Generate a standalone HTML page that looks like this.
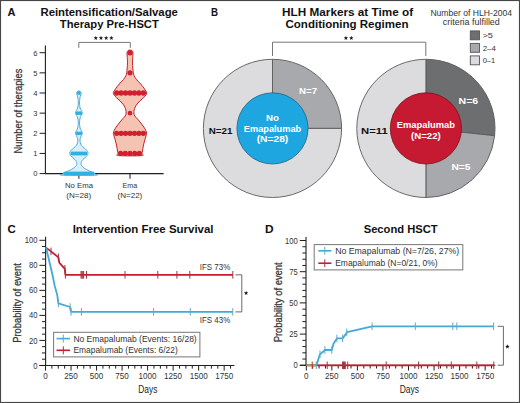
<!DOCTYPE html><html><head><meta charset="utf-8"><style>html,body{margin:0;padding:0;background:#fff;}svg{display:block;font-family:"Liberation Sans", sans-serif;}</style></head><body>
<svg width="520" height="403" viewBox="0 0 520 403">
<rect x="0" y="0" width="520" height="403" fill="#fff"/>
<text x="7.40" y="15.90" font-size="11.2" text-anchor="start" font-weight="bold" fill="#111" textLength="8.00" lengthAdjust="spacingAndGlyphs" >A</text>
<text x="109.20" y="15.90" font-size="11.2" text-anchor="middle" font-weight="bold" fill="#111" textLength="137.50" lengthAdjust="spacingAndGlyphs" >Reintensification/Salvage</text>
<text x="109.30" y="27.60" font-size="11.2" text-anchor="middle" font-weight="bold" fill="#111" textLength="99.00" lengthAdjust="spacingAndGlyphs" >Therapy Pre-HSCT</text>
<polygon points="95.80,35.70 96.39,37.24 98.03,37.32 96.75,38.36 97.18,39.95 95.80,39.05 94.42,39.95 94.85,38.36 93.57,37.32 95.21,37.24" fill="#1a1a1a"/>
<polygon points="101.00,35.70 101.59,37.24 103.23,37.32 101.95,38.36 102.38,39.95 101.00,39.05 99.62,39.95 100.05,38.36 98.77,37.32 100.41,37.24" fill="#1a1a1a"/>
<polygon points="106.20,35.70 106.79,37.24 108.43,37.32 107.15,38.36 107.58,39.95 106.20,39.05 104.82,39.95 105.25,38.36 103.97,37.32 105.61,37.24" fill="#1a1a1a"/>
<polygon points="111.40,35.70 111.99,37.24 113.63,37.32 112.35,38.36 112.78,39.95 111.40,39.05 110.02,39.95 110.45,38.36 109.17,37.32 110.81,37.24" fill="#1a1a1a"/>
<path d="M78.8,47.8 V42.4 H130.3 V47.8" fill="none" stroke="#777" stroke-width="1"/>
<line x1="45.40" y1="45.40" x2="45.40" y2="174.10" stroke="#1e1e1e" stroke-width="1.1"/>
<line x1="44.90" y1="173.60" x2="163.60" y2="173.60" stroke="#1e1e1e" stroke-width="1.1"/>
<line x1="39.60" y1="173.60" x2="45.40" y2="173.60" stroke="#1e1e1e" stroke-width="1.0"/>
<text x="37.40" y="176.40" font-size="8.0" text-anchor="end" fill="#333" textLength="4.20" lengthAdjust="spacingAndGlyphs" >0</text>
<line x1="39.60" y1="153.45" x2="45.40" y2="153.45" stroke="#1e1e1e" stroke-width="1.0"/>
<text x="37.40" y="156.25" font-size="8.0" text-anchor="end" fill="#333" textLength="4.20" lengthAdjust="spacingAndGlyphs" >1</text>
<line x1="39.60" y1="133.30" x2="45.40" y2="133.30" stroke="#1e1e1e" stroke-width="1.0"/>
<text x="37.40" y="136.10" font-size="8.0" text-anchor="end" fill="#333" textLength="4.20" lengthAdjust="spacingAndGlyphs" >2</text>
<line x1="39.60" y1="113.15" x2="45.40" y2="113.15" stroke="#1e1e1e" stroke-width="1.0"/>
<text x="37.40" y="115.95" font-size="8.0" text-anchor="end" fill="#333" textLength="4.20" lengthAdjust="spacingAndGlyphs" >3</text>
<line x1="39.60" y1="93.00" x2="45.40" y2="93.00" stroke="#1e1e1e" stroke-width="1.0"/>
<text x="37.40" y="95.80" font-size="8.0" text-anchor="end" fill="#333" textLength="4.20" lengthAdjust="spacingAndGlyphs" >4</text>
<line x1="39.60" y1="72.85" x2="45.40" y2="72.85" stroke="#1e1e1e" stroke-width="1.0"/>
<text x="37.40" y="75.65" font-size="8.0" text-anchor="end" fill="#333" textLength="4.20" lengthAdjust="spacingAndGlyphs" >5</text>
<line x1="39.60" y1="52.70" x2="45.40" y2="52.70" stroke="#1e1e1e" stroke-width="1.0"/>
<text x="37.40" y="55.50" font-size="8.0" text-anchor="end" fill="#333" textLength="4.20" lengthAdjust="spacingAndGlyphs" >6</text>
<line x1="78.90" y1="173.60" x2="78.90" y2="178.80" stroke="#1e1e1e" stroke-width="1.0"/>
<line x1="130.00" y1="173.60" x2="130.00" y2="178.80" stroke="#1e1e1e" stroke-width="1.0"/>
<text x="79.00" y="187.90" font-size="8.0" text-anchor="middle" fill="#333" textLength="28.00" lengthAdjust="spacingAndGlyphs" >No Ema</text>
<text x="78.80" y="197.80" font-size="8.0" text-anchor="middle" fill="#333" textLength="25.00" lengthAdjust="spacingAndGlyphs" >(N=28)</text>
<text x="129.90" y="187.90" font-size="8.0" text-anchor="middle" fill="#333" textLength="14.60" lengthAdjust="spacingAndGlyphs" >Ema</text>
<text x="129.90" y="197.80" font-size="8.0" text-anchor="middle" fill="#333" textLength="24.80" lengthAdjust="spacingAndGlyphs" >(N=22)</text>
<text x="0" y="0" font-size="10.4" fill="#333" text-anchor="middle" textLength="84.8" lengthAdjust="spacingAndGlyphs" stroke="#333" stroke-width="0.25" transform="translate(21.8,111.1) rotate(-90)">Number of therapies</text>
<path d="M79.40,91.00 C79.78,91.13 80.40,91.43 80.70,91.80 C81.00,92.17 81.20,92.67 81.20,93.20 C81.20,93.73 80.92,94.20 80.70,95.00 C80.48,95.80 80.10,96.67 79.90,98.00 C79.70,99.33 79.47,101.33 79.50,103.00 C79.53,104.67 79.78,106.75 80.10,108.00 C80.42,109.25 81.03,109.68 81.40,110.50 C81.77,111.32 82.30,112.10 82.30,112.90 C82.30,113.70 81.77,114.45 81.40,115.30 C81.03,116.15 80.42,116.72 80.10,118.00 C79.78,119.28 79.50,121.33 79.50,123.00 C79.50,124.67 79.78,126.70 80.10,128.00 C80.42,129.30 81.03,129.93 81.40,130.80 C81.77,131.67 82.30,132.40 82.30,133.20 C82.30,134.00 81.75,134.72 81.40,135.60 C81.05,136.48 80.42,137.52 80.20,138.50 C79.98,139.48 80.02,140.58 80.10,141.50 C80.18,142.42 80.32,143.17 80.70,144.00 C81.08,144.83 81.62,145.67 82.40,146.50 C83.18,147.33 84.57,148.20 85.40,149.00 C86.23,149.80 86.97,150.57 87.40,151.30 C87.83,152.03 88.03,152.70 88.00,153.40 C87.97,154.10 87.67,154.82 87.20,155.50 C86.73,156.18 85.92,156.83 85.20,157.50 C84.48,158.17 83.52,158.83 82.90,159.50 C82.28,160.17 81.82,160.83 81.50,161.50 C81.18,162.17 81.00,162.83 81.00,163.50 C81.00,164.17 81.10,164.83 81.50,165.50 C81.90,166.17 82.58,166.83 83.40,167.50 C84.22,168.17 85.32,168.88 86.40,169.50 C87.48,170.12 88.73,170.67 89.90,171.20 C91.07,171.73 92.52,172.23 93.40,172.70 C94.28,173.17 94.90,173.58 95.20,174.00 C95.50,174.42 100.63,175.00 95.20,175.20 C89.77,175.40 68.03,175.40 62.60,175.20 C57.17,175.00 62.30,174.42 62.60,174.00 C62.90,173.58 63.52,173.17 64.40,172.70 C65.28,172.23 66.73,171.73 67.90,171.20 C69.07,170.67 70.32,170.12 71.40,169.50 C72.48,168.88 73.58,168.17 74.40,167.50 C75.22,166.83 75.90,166.17 76.30,165.50 C76.70,164.83 76.80,164.17 76.80,163.50 C76.80,162.83 76.62,162.17 76.30,161.50 C75.98,160.83 75.52,160.17 74.90,159.50 C74.28,158.83 73.32,158.17 72.60,157.50 C71.88,156.83 71.07,156.18 70.60,155.50 C70.13,154.82 69.83,154.10 69.80,153.40 C69.77,152.70 69.97,152.03 70.40,151.30 C70.83,150.57 71.57,149.80 72.40,149.00 C73.23,148.20 74.62,147.33 75.40,146.50 C76.18,145.67 76.72,144.83 77.10,144.00 C77.48,143.17 77.62,142.42 77.70,141.50 C77.78,140.58 77.82,139.48 77.60,138.50 C77.38,137.52 76.75,136.48 76.40,135.60 C76.05,134.72 75.50,134.00 75.50,133.20 C75.50,132.40 76.03,131.67 76.40,130.80 C76.77,129.93 77.38,129.30 77.70,128.00 C78.02,126.70 78.30,124.67 78.30,123.00 C78.30,121.33 78.02,119.28 77.70,118.00 C77.38,116.72 76.77,116.15 76.40,115.30 C76.03,114.45 75.50,113.70 75.50,112.90 C75.50,112.10 76.03,111.32 76.40,110.50 C76.77,109.68 77.38,109.25 77.70,108.00 C78.02,106.75 78.27,104.67 78.30,103.00 C78.33,101.33 78.10,99.33 77.90,98.00 C77.70,96.67 77.32,95.80 77.10,95.00 C76.88,94.20 76.60,93.73 76.60,93.20 C76.60,92.67 76.80,92.17 77.10,91.80 C77.40,91.43 78.02,91.13 78.40,91.00 C78.78,90.87 79.02,90.87 79.40,91.00Z" fill="#d6effa" stroke="#4aa9d4" stroke-width="0.95" stroke-linejoin="round"/>
<circle cx="78.90" cy="93.00" r="1.9" fill="#2fb0e2"/>
<circle cx="77.60" cy="113.15" r="1.9" fill="#2fb0e2"/>
<circle cx="80.20" cy="113.15" r="1.9" fill="#2fb0e2"/>
<circle cx="77.60" cy="133.30" r="1.9" fill="#2fb0e2"/>
<circle cx="80.20" cy="133.30" r="1.9" fill="#2fb0e2"/>
<circle cx="72.43" cy="153.45" r="2.0" fill="#2fb0e2"/>
<circle cx="74.28" cy="153.45" r="2.0" fill="#2fb0e2"/>
<circle cx="76.13" cy="153.45" r="2.0" fill="#2fb0e2"/>
<circle cx="77.98" cy="153.45" r="2.0" fill="#2fb0e2"/>
<circle cx="79.83" cy="153.45" r="2.0" fill="#2fb0e2"/>
<circle cx="81.68" cy="153.45" r="2.0" fill="#2fb0e2"/>
<circle cx="83.53" cy="153.45" r="2.0" fill="#2fb0e2"/>
<circle cx="85.38" cy="153.45" r="2.0" fill="#2fb0e2"/>
<circle cx="65.25" cy="173.40" r="2.0" fill="#2fb0e2"/>
<circle cx="67.20" cy="173.40" r="2.0" fill="#2fb0e2"/>
<circle cx="69.15" cy="173.40" r="2.0" fill="#2fb0e2"/>
<circle cx="71.10" cy="173.40" r="2.0" fill="#2fb0e2"/>
<circle cx="73.05" cy="173.40" r="2.0" fill="#2fb0e2"/>
<circle cx="75.00" cy="173.40" r="2.0" fill="#2fb0e2"/>
<circle cx="76.95" cy="173.40" r="2.0" fill="#2fb0e2"/>
<circle cx="78.90" cy="173.40" r="2.0" fill="#2fb0e2"/>
<circle cx="80.85" cy="173.40" r="2.0" fill="#2fb0e2"/>
<circle cx="82.80" cy="173.40" r="2.0" fill="#2fb0e2"/>
<circle cx="84.75" cy="173.40" r="2.0" fill="#2fb0e2"/>
<circle cx="86.70" cy="173.40" r="2.0" fill="#2fb0e2"/>
<circle cx="88.65" cy="173.40" r="2.0" fill="#2fb0e2"/>
<circle cx="90.60" cy="173.40" r="2.0" fill="#2fb0e2"/>
<circle cx="92.55" cy="173.40" r="2.0" fill="#2fb0e2"/>
<path d="M130.80,50.20 C131.27,50.27 131.63,50.17 132.00,50.60 C132.37,51.03 132.87,51.90 133.00,52.80 C133.13,53.70 132.88,54.35 132.80,56.00 C132.72,57.65 132.50,60.70 132.50,62.70 C132.50,64.70 132.67,66.33 132.80,68.00 C132.93,69.67 133.07,71.37 133.30,72.70 C133.53,74.03 133.67,74.87 134.20,76.00 C134.73,77.13 135.57,78.33 136.50,79.50 C137.43,80.67 138.75,81.83 139.80,83.00 C140.85,84.17 141.90,85.33 142.80,86.50 C143.70,87.67 144.55,88.92 145.20,90.00 C145.85,91.08 146.70,92.00 146.70,93.00 C146.70,94.00 145.98,95.00 145.20,96.00 C144.42,97.00 143.22,97.83 142.00,99.00 C140.78,100.17 139.03,101.67 137.90,103.00 C136.77,104.33 135.82,105.83 135.20,107.00 C134.58,108.17 134.42,109.00 134.20,110.00 C133.98,111.00 133.80,112.00 133.90,113.00 C134.00,114.00 134.20,115.00 134.80,116.00 C135.40,117.00 136.50,117.83 137.50,119.00 C138.50,120.17 139.75,121.67 140.80,123.00 C141.85,124.33 142.97,125.75 143.80,127.00 C144.63,128.25 145.33,129.47 145.80,130.50 C146.27,131.53 146.57,132.28 146.60,133.20 C146.63,134.12 146.35,134.70 146.00,136.00 C145.65,137.30 144.95,139.33 144.50,141.00 C144.05,142.67 143.63,144.33 143.30,146.00 C142.97,147.67 142.72,149.77 142.50,151.00 C142.28,152.23 142.17,152.63 142.00,153.40 C141.83,154.17 145.42,155.23 141.50,155.60 C137.58,155.97 122.42,155.97 118.50,155.60 C114.58,155.23 118.17,154.17 118.00,153.40 C117.83,152.63 117.72,152.23 117.50,151.00 C117.28,149.77 117.03,147.67 116.70,146.00 C116.37,144.33 115.95,142.67 115.50,141.00 C115.05,139.33 114.35,137.30 114.00,136.00 C113.65,134.70 113.37,134.12 113.40,133.20 C113.43,132.28 113.73,131.53 114.20,130.50 C114.67,129.47 115.37,128.25 116.20,127.00 C117.03,125.75 118.15,124.33 119.20,123.00 C120.25,121.67 121.50,120.17 122.50,119.00 C123.50,117.83 124.60,117.00 125.20,116.00 C125.80,115.00 126.00,114.00 126.10,113.00 C126.20,112.00 126.02,111.00 125.80,110.00 C125.58,109.00 125.42,108.17 124.80,107.00 C124.18,105.83 123.23,104.33 122.10,103.00 C120.97,101.67 119.22,100.17 118.00,99.00 C116.78,97.83 115.58,97.00 114.80,96.00 C114.02,95.00 113.30,94.00 113.30,93.00 C113.30,92.00 114.15,91.08 114.80,90.00 C115.45,88.92 116.30,87.67 117.20,86.50 C118.10,85.33 119.15,84.17 120.20,83.00 C121.25,81.83 122.57,80.67 123.50,79.50 C124.43,78.33 125.27,77.13 125.80,76.00 C126.33,74.87 126.47,74.03 126.70,72.70 C126.93,71.37 127.07,69.67 127.20,68.00 C127.33,66.33 127.50,64.70 127.50,62.70 C127.50,60.70 127.28,57.65 127.20,56.00 C127.12,54.35 126.87,53.70 127.00,52.80 C127.13,51.90 127.63,51.03 128.00,50.60 C128.37,50.17 128.73,50.27 129.20,50.20 C129.67,50.13 130.33,50.13 130.80,50.20Z" fill="#f5c3b2" stroke="#c4202e" stroke-width="1.0" stroke-linejoin="round"/>
<circle cx="130.00" cy="52.70" r="2.7" fill="#d01f2e"/>
<circle cx="130.00" cy="72.85" r="2.6" fill="#d01f2e"/>
<circle cx="116.65" cy="93.00" r="2.65" fill="#d01f2e"/>
<circle cx="121.10" cy="93.00" r="2.65" fill="#d01f2e"/>
<circle cx="125.55" cy="93.00" r="2.65" fill="#d01f2e"/>
<circle cx="130.00" cy="93.00" r="2.65" fill="#d01f2e"/>
<circle cx="134.45" cy="93.00" r="2.65" fill="#d01f2e"/>
<circle cx="138.90" cy="93.00" r="2.65" fill="#d01f2e"/>
<circle cx="143.35" cy="93.00" r="2.65" fill="#d01f2e"/>
<circle cx="130.00" cy="113.15" r="2.3" fill="#d01f2e"/>
<circle cx="116.65" cy="133.30" r="2.65" fill="#d01f2e"/>
<circle cx="121.10" cy="133.30" r="2.65" fill="#d01f2e"/>
<circle cx="125.55" cy="133.30" r="2.65" fill="#d01f2e"/>
<circle cx="130.00" cy="133.30" r="2.65" fill="#d01f2e"/>
<circle cx="134.45" cy="133.30" r="2.65" fill="#d01f2e"/>
<circle cx="138.90" cy="133.30" r="2.65" fill="#d01f2e"/>
<circle cx="143.35" cy="133.30" r="2.65" fill="#d01f2e"/>
<circle cx="120.60" cy="153.45" r="2.6" fill="#d01f2e"/>
<circle cx="125.30" cy="153.45" r="2.6" fill="#d01f2e"/>
<circle cx="130.00" cy="153.45" r="2.6" fill="#d01f2e"/>
<circle cx="134.70" cy="153.45" r="2.6" fill="#d01f2e"/>
<circle cx="139.40" cy="153.45" r="2.6" fill="#d01f2e"/>
<text x="210.90" y="15.90" font-size="11.2" text-anchor="start" font-weight="bold" fill="#111" textLength="7.00" lengthAdjust="spacingAndGlyphs" >B</text>
<text x="347.60" y="15.90" font-size="11.2" text-anchor="middle" font-weight="bold" fill="#111" textLength="131.00" lengthAdjust="spacingAndGlyphs" >HLH Markers at Time of</text>
<text x="347.00" y="27.60" font-size="11.2" text-anchor="middle" font-weight="bold" fill="#111" textLength="123.00" lengthAdjust="spacingAndGlyphs" >Conditioning Regimen</text>
<polygon points="345.90,35.70 346.49,37.24 348.13,37.32 346.85,38.36 347.28,39.95 345.90,39.05 344.52,39.95 344.95,38.36 343.67,37.32 345.31,37.24" fill="#1a1a1a"/>
<polygon points="351.30,35.70 351.89,37.24 353.53,37.32 352.25,38.36 352.68,39.95 351.30,39.05 349.92,39.95 350.35,38.36 349.07,37.32 350.71,37.24" fill="#1a1a1a"/>
<path d="M272.5,56 V42.2 H425.8 V56" fill="none" stroke="#777" stroke-width="1"/>
<text x="471.20" y="15.50" font-size="9.4" text-anchor="middle" fill="#333" textLength="81.60" lengthAdjust="spacingAndGlyphs" >Number of HLH-2004</text>
<text x="471.30" y="24.50" font-size="9.4" text-anchor="middle" fill="#333" textLength="57.00" lengthAdjust="spacingAndGlyphs" >criteria fulfilled</text>
<rect x="470.3" y="30.90" width="9.2" height="8.9" fill="#6d6e70" stroke="#555" stroke-width="0.9"/>
<rect x="470.3" y="43.40" width="9.2" height="8.9" fill="#a8a9ac" stroke="#555" stroke-width="0.9"/>
<rect x="470.3" y="55.90" width="9.2" height="8.9" fill="#dcdcdf" stroke="#555" stroke-width="0.9"/>
<text x="482.50" y="37.90" font-size="8.0" text-anchor="start" fill="#333" textLength="10.40" lengthAdjust="spacingAndGlyphs" >&gt;5</text>
<text x="482.70" y="50.50" font-size="8.0" text-anchor="start" fill="#333" textLength="13.20" lengthAdjust="spacingAndGlyphs" >2–4</text>
<text x="482.70" y="62.90" font-size="8.0" text-anchor="start" fill="#333" textLength="12.50" lengthAdjust="spacingAndGlyphs" >0–1</text>
<path d="M272.50,128.40 L272.50,59.30 A69.1,69.1 0 0 1 341.60,128.40 Z" fill="#a8a9ac" stroke="#5a5a5a" stroke-width="0.9" stroke-linejoin="round"/>
<path d="M272.50,128.40 L341.60,128.40 A69.1,69.1 0 1 1 272.50,59.30 Z" fill="#dcdcdf" stroke="#5a5a5a" stroke-width="0.9" stroke-linejoin="round"/>
<circle cx="272.5" cy="128.4" r="35.6" fill="#1da6df" stroke="#23607e" stroke-width="0.8"/>
<text x="272.50" y="121.30" font-size="9.6" text-anchor="middle" font-weight="bold" fill="#fff" textLength="12.90" lengthAdjust="spacingAndGlyphs" >No</text>
<text x="272.50" y="132.20" font-size="9.6" text-anchor="middle" font-weight="bold" fill="#fff" textLength="57.40" lengthAdjust="spacingAndGlyphs" >Emapalumab</text>
<text x="272.50" y="141.90" font-size="9.6" text-anchor="middle" font-weight="bold" fill="#fff" textLength="31.60" lengthAdjust="spacingAndGlyphs" >(N=28)</text>
<text x="308.10" y="94.30" font-size="9.6" text-anchor="middle" font-weight="bold" fill="#fff" textLength="18.00" lengthAdjust="spacingAndGlyphs" >N=7</text>
<text x="220.60" y="134.40" font-size="9.6" text-anchor="middle" font-weight="bold" fill="#111" textLength="23.70" lengthAdjust="spacingAndGlyphs" >N=21</text>
<path d="M425.90,128.40 L425.90,59.30 A69.1,69.1 0 0 1 494.61,135.74 Z" fill="#6d6e70" stroke="#5a5a5a" stroke-width="0.9" stroke-linejoin="round"/>
<path d="M425.90,128.40 L494.61,135.74 A69.1,69.1 0 0 1 425.90,197.50 Z" fill="#a8a9ac" stroke="#5a5a5a" stroke-width="0.9" stroke-linejoin="round"/>
<path d="M425.90,128.40 L425.90,197.50 A69.1,69.1 0 0 1 425.90,59.30 Z" fill="#dcdcdf" stroke="#5a5a5a" stroke-width="0.9" stroke-linejoin="round"/>
<circle cx="425.9" cy="128.4" r="35.6" fill="#c51a32" stroke="#7e0b1a" stroke-width="0.8"/>
<text x="425.90" y="128.20" font-size="9.6" text-anchor="middle" font-weight="bold" fill="#fff" textLength="58.20" lengthAdjust="spacingAndGlyphs" >Emapalumab</text>
<text x="425.90" y="138.60" font-size="9.6" text-anchor="middle" font-weight="bold" fill="#fff" textLength="29.80" lengthAdjust="spacingAndGlyphs" >(N=22)</text>
<text x="468.40" y="103.90" font-size="9.6" text-anchor="middle" font-weight="bold" fill="#fff" textLength="19.60" lengthAdjust="spacingAndGlyphs" >N=6</text>
<text x="461.00" y="170.20" font-size="9.6" text-anchor="middle" font-weight="bold" fill="#fff" textLength="19.10" lengthAdjust="spacingAndGlyphs" >N=5</text>
<text x="374.40" y="134.40" font-size="9.6" text-anchor="middle" font-weight="bold" fill="#111" textLength="26.60" lengthAdjust="spacingAndGlyphs" >N=11</text>
<text x="7.50" y="232.80" font-size="11.2" text-anchor="start" font-weight="bold" fill="#111" textLength="8.30" lengthAdjust="spacingAndGlyphs" >C</text>
<text x="143.10" y="232.80" font-size="11.2" text-anchor="middle" font-weight="bold" fill="#111" textLength="140.90" lengthAdjust="spacingAndGlyphs" >Intervention Free Survival</text>
<line x1="45.60" y1="236.80" x2="45.60" y2="365.95" stroke="#1e1e1e" stroke-width="1.1"/>
<line x1="39.40" y1="365.45" x2="234.38" y2="365.45" stroke="#1e1e1e" stroke-width="1.1"/>
<line x1="39.40" y1="365.45" x2="45.60" y2="365.45" stroke="#1e1e1e" stroke-width="1.0"/>
<text x="37.40" y="368.55" font-size="8.8" text-anchor="end" fill="#333" textLength="4.25" lengthAdjust="spacingAndGlyphs" >0</text>
<line x1="42.00" y1="359.19" x2="45.60" y2="359.19" stroke="#1e1e1e" stroke-width="1.0"/>
<line x1="42.00" y1="352.94" x2="45.60" y2="352.94" stroke="#1e1e1e" stroke-width="1.0"/>
<line x1="42.00" y1="346.68" x2="45.60" y2="346.68" stroke="#1e1e1e" stroke-width="1.0"/>
<line x1="39.40" y1="340.42" x2="45.60" y2="340.42" stroke="#1e1e1e" stroke-width="1.0"/>
<text x="37.40" y="343.52" font-size="8.8" text-anchor="end" fill="#333" textLength="8.50" lengthAdjust="spacingAndGlyphs" >20</text>
<line x1="42.00" y1="334.16" x2="45.60" y2="334.16" stroke="#1e1e1e" stroke-width="1.0"/>
<line x1="42.00" y1="327.91" x2="45.60" y2="327.91" stroke="#1e1e1e" stroke-width="1.0"/>
<line x1="42.00" y1="321.65" x2="45.60" y2="321.65" stroke="#1e1e1e" stroke-width="1.0"/>
<line x1="39.40" y1="315.39" x2="45.60" y2="315.39" stroke="#1e1e1e" stroke-width="1.0"/>
<text x="37.40" y="318.49" font-size="8.8" text-anchor="end" fill="#333" textLength="8.50" lengthAdjust="spacingAndGlyphs" >40</text>
<line x1="42.00" y1="309.13" x2="45.60" y2="309.13" stroke="#1e1e1e" stroke-width="1.0"/>
<line x1="42.00" y1="302.88" x2="45.60" y2="302.88" stroke="#1e1e1e" stroke-width="1.0"/>
<line x1="42.00" y1="296.62" x2="45.60" y2="296.62" stroke="#1e1e1e" stroke-width="1.0"/>
<line x1="39.40" y1="290.36" x2="45.60" y2="290.36" stroke="#1e1e1e" stroke-width="1.0"/>
<text x="37.40" y="293.46" font-size="8.8" text-anchor="end" fill="#333" textLength="8.50" lengthAdjust="spacingAndGlyphs" >60</text>
<line x1="42.00" y1="284.10" x2="45.60" y2="284.10" stroke="#1e1e1e" stroke-width="1.0"/>
<line x1="42.00" y1="277.85" x2="45.60" y2="277.85" stroke="#1e1e1e" stroke-width="1.0"/>
<line x1="42.00" y1="271.59" x2="45.60" y2="271.59" stroke="#1e1e1e" stroke-width="1.0"/>
<line x1="39.40" y1="265.33" x2="45.60" y2="265.33" stroke="#1e1e1e" stroke-width="1.0"/>
<text x="37.40" y="268.43" font-size="8.8" text-anchor="end" fill="#333" textLength="8.50" lengthAdjust="spacingAndGlyphs" >80</text>
<line x1="42.00" y1="259.07" x2="45.60" y2="259.07" stroke="#1e1e1e" stroke-width="1.0"/>
<line x1="42.00" y1="252.81" x2="45.60" y2="252.81" stroke="#1e1e1e" stroke-width="1.0"/>
<line x1="42.00" y1="246.56" x2="45.60" y2="246.56" stroke="#1e1e1e" stroke-width="1.0"/>
<line x1="39.40" y1="240.30" x2="45.60" y2="240.30" stroke="#1e1e1e" stroke-width="1.0"/>
<text x="37.40" y="243.40" font-size="8.8" text-anchor="end" fill="#333" textLength="12.75" lengthAdjust="spacingAndGlyphs" >100</text>
<line x1="45.50" y1="365.45" x2="45.50" y2="370.65" stroke="#1e1e1e" stroke-width="1.0"/>
<text x="45.50" y="379.05" font-size="8.8" text-anchor="middle" fill="#333" textLength="4.50" lengthAdjust="spacingAndGlyphs" >0</text>
<line x1="51.88" y1="365.45" x2="51.88" y2="368.65" stroke="#1e1e1e" stroke-width="1.0"/>
<line x1="58.26" y1="365.45" x2="58.26" y2="368.65" stroke="#1e1e1e" stroke-width="1.0"/>
<line x1="64.64" y1="365.45" x2="64.64" y2="368.65" stroke="#1e1e1e" stroke-width="1.0"/>
<line x1="71.03" y1="365.45" x2="71.03" y2="370.65" stroke="#1e1e1e" stroke-width="1.0"/>
<text x="71.03" y="379.05" font-size="8.8" text-anchor="middle" fill="#333" textLength="13.50" lengthAdjust="spacingAndGlyphs" >250</text>
<line x1="77.41" y1="365.45" x2="77.41" y2="368.65" stroke="#1e1e1e" stroke-width="1.0"/>
<line x1="83.79" y1="365.45" x2="83.79" y2="368.65" stroke="#1e1e1e" stroke-width="1.0"/>
<line x1="90.17" y1="365.45" x2="90.17" y2="368.65" stroke="#1e1e1e" stroke-width="1.0"/>
<line x1="96.55" y1="365.45" x2="96.55" y2="370.65" stroke="#1e1e1e" stroke-width="1.0"/>
<text x="96.55" y="379.05" font-size="8.8" text-anchor="middle" fill="#333" textLength="13.50" lengthAdjust="spacingAndGlyphs" >500</text>
<line x1="102.93" y1="365.45" x2="102.93" y2="368.65" stroke="#1e1e1e" stroke-width="1.0"/>
<line x1="109.31" y1="365.45" x2="109.31" y2="368.65" stroke="#1e1e1e" stroke-width="1.0"/>
<line x1="115.69" y1="365.45" x2="115.69" y2="368.65" stroke="#1e1e1e" stroke-width="1.0"/>
<line x1="122.08" y1="365.45" x2="122.08" y2="370.65" stroke="#1e1e1e" stroke-width="1.0"/>
<text x="122.08" y="379.05" font-size="8.8" text-anchor="middle" fill="#333" textLength="13.50" lengthAdjust="spacingAndGlyphs" >750</text>
<line x1="128.46" y1="365.45" x2="128.46" y2="368.65" stroke="#1e1e1e" stroke-width="1.0"/>
<line x1="134.84" y1="365.45" x2="134.84" y2="368.65" stroke="#1e1e1e" stroke-width="1.0"/>
<line x1="141.22" y1="365.45" x2="141.22" y2="368.65" stroke="#1e1e1e" stroke-width="1.0"/>
<line x1="147.60" y1="365.45" x2="147.60" y2="370.65" stroke="#1e1e1e" stroke-width="1.0"/>
<text x="147.60" y="379.05" font-size="8.8" text-anchor="middle" fill="#333" textLength="18.00" lengthAdjust="spacingAndGlyphs" >1000</text>
<line x1="153.98" y1="365.45" x2="153.98" y2="368.65" stroke="#1e1e1e" stroke-width="1.0"/>
<line x1="160.36" y1="365.45" x2="160.36" y2="368.65" stroke="#1e1e1e" stroke-width="1.0"/>
<line x1="166.74" y1="365.45" x2="166.74" y2="368.65" stroke="#1e1e1e" stroke-width="1.0"/>
<line x1="173.12" y1="365.45" x2="173.12" y2="370.65" stroke="#1e1e1e" stroke-width="1.0"/>
<text x="173.12" y="379.05" font-size="8.8" text-anchor="middle" fill="#333" textLength="18.00" lengthAdjust="spacingAndGlyphs" >1250</text>
<line x1="179.51" y1="365.45" x2="179.51" y2="368.65" stroke="#1e1e1e" stroke-width="1.0"/>
<line x1="185.89" y1="365.45" x2="185.89" y2="368.65" stroke="#1e1e1e" stroke-width="1.0"/>
<line x1="192.27" y1="365.45" x2="192.27" y2="368.65" stroke="#1e1e1e" stroke-width="1.0"/>
<line x1="198.65" y1="365.45" x2="198.65" y2="370.65" stroke="#1e1e1e" stroke-width="1.0"/>
<text x="198.65" y="379.05" font-size="8.8" text-anchor="middle" fill="#333" textLength="18.00" lengthAdjust="spacingAndGlyphs" >1500</text>
<line x1="205.03" y1="365.45" x2="205.03" y2="368.65" stroke="#1e1e1e" stroke-width="1.0"/>
<line x1="211.41" y1="365.45" x2="211.41" y2="368.65" stroke="#1e1e1e" stroke-width="1.0"/>
<line x1="217.79" y1="365.45" x2="217.79" y2="368.65" stroke="#1e1e1e" stroke-width="1.0"/>
<line x1="224.17" y1="365.45" x2="224.17" y2="370.65" stroke="#1e1e1e" stroke-width="1.0"/>
<text x="224.17" y="379.05" font-size="8.8" text-anchor="middle" fill="#333" textLength="18.00" lengthAdjust="spacingAndGlyphs" >1750</text>
<line x1="230.56" y1="365.45" x2="230.56" y2="368.65" stroke="#1e1e1e" stroke-width="1.0"/>
<text x="147.80" y="392.50" font-size="11.0" text-anchor="middle" fill="#222" textLength="19.00" lengthAdjust="spacingAndGlyphs" >Days</text>
<text x="0" y="0" font-size="10.4" fill="#333" text-anchor="middle" textLength="79.5" lengthAdjust="spacingAndGlyphs" stroke="#333" stroke-width="0.25" transform="translate(20.8,303.0) rotate(-90)">Probability of event</text>
<polyline points="46.00,247.60 51.00,251.40 58.40,257.40 59.40,262.80 64.90,268.80 65.40,274.90 232.90,274.90" fill="none" stroke="#c81c2e" stroke-width="1.8" stroke-linejoin="round" />
<line x1="51.00" y1="247.60" x2="51.00" y2="255.20" stroke="#a8303f" stroke-width="1.0"/>
<line x1="58.40" y1="253.60" x2="58.40" y2="261.20" stroke="#a8303f" stroke-width="1.0"/>
<line x1="64.90" y1="265.00" x2="64.90" y2="272.60" stroke="#a8303f" stroke-width="1.0"/>
<line x1="65.40" y1="271.00" x2="65.40" y2="278.60" stroke="#a8303f" stroke-width="1.0"/>
<line x1="81.00" y1="271.00" x2="81.00" y2="278.60" stroke="#a8303f" stroke-width="1.0"/>
<line x1="81.90" y1="271.00" x2="81.90" y2="278.60" stroke="#a8303f" stroke-width="1.0"/>
<line x1="82.80" y1="271.00" x2="82.80" y2="278.60" stroke="#a8303f" stroke-width="1.0"/>
<line x1="83.60" y1="271.00" x2="83.60" y2="278.60" stroke="#a8303f" stroke-width="1.0"/>
<line x1="86.50" y1="271.00" x2="86.50" y2="278.60" stroke="#a8303f" stroke-width="1.0"/>
<line x1="125.00" y1="271.00" x2="125.00" y2="278.60" stroke="#a8303f" stroke-width="1.0"/>
<line x1="157.80" y1="271.00" x2="157.80" y2="278.60" stroke="#a8303f" stroke-width="1.0"/>
<line x1="176.90" y1="271.00" x2="176.90" y2="278.60" stroke="#a8303f" stroke-width="1.0"/>
<line x1="189.80" y1="271.00" x2="189.80" y2="278.60" stroke="#a8303f" stroke-width="1.0"/>
<line x1="232.80" y1="271.00" x2="232.80" y2="278.60" stroke="#a8303f" stroke-width="1.0"/>
<polyline points="46.00,247.20 52.50,275.00 54.70,285.70 57.30,295.30 58.40,303.30 70.10,307.00 71.20,311.90 232.90,311.90" fill="none" stroke="#42aad8" stroke-width="1.8" stroke-linejoin="round" />
<line x1="58.40" y1="299.50" x2="58.40" y2="307.10" stroke="#62a9c8" stroke-width="1.0"/>
<line x1="70.10" y1="303.20" x2="70.10" y2="310.80" stroke="#62a9c8" stroke-width="1.0"/>
<line x1="71.00" y1="308.10" x2="71.00" y2="315.70" stroke="#62a9c8" stroke-width="1.0"/>
<line x1="81.40" y1="308.10" x2="81.40" y2="315.70" stroke="#62a9c8" stroke-width="1.0"/>
<line x1="153.60" y1="308.10" x2="153.60" y2="315.70" stroke="#62a9c8" stroke-width="1.0"/>
<line x1="190.30" y1="308.10" x2="190.30" y2="315.70" stroke="#62a9c8" stroke-width="1.0"/>
<line x1="232.80" y1="308.10" x2="232.80" y2="315.70" stroke="#62a9c8" stroke-width="1.0"/>
<text x="215.00" y="270.00" font-size="8.8" text-anchor="middle" fill="#333" textLength="30.40" lengthAdjust="spacingAndGlyphs" >IFS 73%</text>
<text x="215.00" y="322.60" font-size="8.8" text-anchor="middle" fill="#333" textLength="30.40" lengthAdjust="spacingAndGlyphs" >IFS 43%</text>
<path d="M235.4,274.8 H241.8 V311.9 H235.4" fill="none" stroke="#6a6a6a" stroke-width="1"/>
<polygon points="246.10,290.70 246.69,292.24 248.33,292.32 247.05,293.36 247.48,294.95 246.10,294.05 244.72,294.95 245.15,293.36 243.87,292.32 245.51,292.24" fill="#1a1a1a"/>
<rect x="53.6" y="332.3" width="146.3" height="24.6" fill="#fff" stroke="#777" stroke-width="1"/>
<line x1="56.50" y1="338.60" x2="70.00" y2="338.60" stroke="#42aad8" stroke-width="1.6"/>
<line x1="63.30" y1="334.60" x2="63.30" y2="342.60" stroke="#62a9c8" stroke-width="1.0"/>
<line x1="56.50" y1="350.30" x2="70.00" y2="350.30" stroke="#c81c2e" stroke-width="1.6"/>
<line x1="63.30" y1="346.30" x2="63.30" y2="354.30" stroke="#a8303f" stroke-width="1.0"/>
<text x="73.40" y="341.50" font-size="8.8" text-anchor="start" fill="#333" textLength="123.30" lengthAdjust="spacingAndGlyphs" >No Emapalumab (Events: 16/28)</text>
<text x="73.40" y="353.40" font-size="8.8" text-anchor="start" fill="#333" textLength="104.40" lengthAdjust="spacingAndGlyphs" >Emapalumab (Events: 6/22)</text>
<text x="265.00" y="232.80" font-size="11.2" text-anchor="start" font-weight="bold" fill="#111" textLength="8.60" lengthAdjust="spacingAndGlyphs" >D</text>
<text x="400.70" y="232.80" font-size="11.2" text-anchor="middle" font-weight="bold" fill="#111" textLength="74.00" lengthAdjust="spacingAndGlyphs" >Second HSCT</text>
<line x1="306.00" y1="237.00" x2="306.00" y2="365.80" stroke="#1e1e1e" stroke-width="1.1"/>
<line x1="299.80" y1="365.30" x2="495.37" y2="365.30" stroke="#1e1e1e" stroke-width="1.1"/>
<line x1="299.80" y1="365.30" x2="306.00" y2="365.30" stroke="#1e1e1e" stroke-width="1.0"/>
<text x="297.80" y="368.40" font-size="8.8" text-anchor="end" fill="#333" textLength="4.25" lengthAdjust="spacingAndGlyphs" >0</text>
<line x1="302.40" y1="359.06" x2="306.00" y2="359.06" stroke="#1e1e1e" stroke-width="1.0"/>
<line x1="302.40" y1="352.82" x2="306.00" y2="352.82" stroke="#1e1e1e" stroke-width="1.0"/>
<line x1="302.40" y1="346.58" x2="306.00" y2="346.58" stroke="#1e1e1e" stroke-width="1.0"/>
<line x1="302.40" y1="340.34" x2="306.00" y2="340.34" stroke="#1e1e1e" stroke-width="1.0"/>
<line x1="299.80" y1="334.10" x2="306.00" y2="334.10" stroke="#1e1e1e" stroke-width="1.0"/>
<text x="297.80" y="337.20" font-size="8.8" text-anchor="end" fill="#333" textLength="8.50" lengthAdjust="spacingAndGlyphs" >25</text>
<line x1="302.40" y1="327.86" x2="306.00" y2="327.86" stroke="#1e1e1e" stroke-width="1.0"/>
<line x1="302.40" y1="321.62" x2="306.00" y2="321.62" stroke="#1e1e1e" stroke-width="1.0"/>
<line x1="302.40" y1="315.38" x2="306.00" y2="315.38" stroke="#1e1e1e" stroke-width="1.0"/>
<line x1="302.40" y1="309.14" x2="306.00" y2="309.14" stroke="#1e1e1e" stroke-width="1.0"/>
<line x1="299.80" y1="302.90" x2="306.00" y2="302.90" stroke="#1e1e1e" stroke-width="1.0"/>
<text x="297.80" y="306.00" font-size="8.8" text-anchor="end" fill="#333" textLength="8.50" lengthAdjust="spacingAndGlyphs" >50</text>
<line x1="302.40" y1="296.66" x2="306.00" y2="296.66" stroke="#1e1e1e" stroke-width="1.0"/>
<line x1="302.40" y1="290.42" x2="306.00" y2="290.42" stroke="#1e1e1e" stroke-width="1.0"/>
<line x1="302.40" y1="284.18" x2="306.00" y2="284.18" stroke="#1e1e1e" stroke-width="1.0"/>
<line x1="302.40" y1="277.94" x2="306.00" y2="277.94" stroke="#1e1e1e" stroke-width="1.0"/>
<line x1="299.80" y1="271.70" x2="306.00" y2="271.70" stroke="#1e1e1e" stroke-width="1.0"/>
<text x="297.80" y="274.80" font-size="8.8" text-anchor="end" fill="#333" textLength="8.50" lengthAdjust="spacingAndGlyphs" >75</text>
<line x1="302.40" y1="265.46" x2="306.00" y2="265.46" stroke="#1e1e1e" stroke-width="1.0"/>
<line x1="302.40" y1="259.22" x2="306.00" y2="259.22" stroke="#1e1e1e" stroke-width="1.0"/>
<line x1="302.40" y1="252.98" x2="306.00" y2="252.98" stroke="#1e1e1e" stroke-width="1.0"/>
<line x1="302.40" y1="246.74" x2="306.00" y2="246.74" stroke="#1e1e1e" stroke-width="1.0"/>
<line x1="299.80" y1="240.50" x2="306.00" y2="240.50" stroke="#1e1e1e" stroke-width="1.0"/>
<text x="297.80" y="243.60" font-size="8.8" text-anchor="end" fill="#333" textLength="12.75" lengthAdjust="spacingAndGlyphs" >100</text>
<line x1="306.30" y1="365.30" x2="306.30" y2="370.50" stroke="#1e1e1e" stroke-width="1.0"/>
<text x="306.30" y="378.90" font-size="8.8" text-anchor="middle" fill="#333" textLength="4.50" lengthAdjust="spacingAndGlyphs" >0</text>
<line x1="312.69" y1="365.30" x2="312.69" y2="368.50" stroke="#1e1e1e" stroke-width="1.0"/>
<line x1="319.07" y1="365.30" x2="319.07" y2="368.50" stroke="#1e1e1e" stroke-width="1.0"/>
<line x1="325.46" y1="365.30" x2="325.46" y2="368.50" stroke="#1e1e1e" stroke-width="1.0"/>
<line x1="331.85" y1="365.30" x2="331.85" y2="370.50" stroke="#1e1e1e" stroke-width="1.0"/>
<text x="331.85" y="378.90" font-size="8.8" text-anchor="middle" fill="#333" textLength="13.50" lengthAdjust="spacingAndGlyphs" >250</text>
<line x1="338.24" y1="365.30" x2="338.24" y2="368.50" stroke="#1e1e1e" stroke-width="1.0"/>
<line x1="344.62" y1="365.30" x2="344.62" y2="368.50" stroke="#1e1e1e" stroke-width="1.0"/>
<line x1="351.01" y1="365.30" x2="351.01" y2="368.50" stroke="#1e1e1e" stroke-width="1.0"/>
<line x1="357.40" y1="365.30" x2="357.40" y2="370.50" stroke="#1e1e1e" stroke-width="1.0"/>
<text x="357.40" y="378.90" font-size="8.8" text-anchor="middle" fill="#333" textLength="13.50" lengthAdjust="spacingAndGlyphs" >500</text>
<line x1="363.79" y1="365.30" x2="363.79" y2="368.50" stroke="#1e1e1e" stroke-width="1.0"/>
<line x1="370.18" y1="365.30" x2="370.18" y2="368.50" stroke="#1e1e1e" stroke-width="1.0"/>
<line x1="376.56" y1="365.30" x2="376.56" y2="368.50" stroke="#1e1e1e" stroke-width="1.0"/>
<line x1="382.95" y1="365.30" x2="382.95" y2="370.50" stroke="#1e1e1e" stroke-width="1.0"/>
<text x="382.95" y="378.90" font-size="8.8" text-anchor="middle" fill="#333" textLength="13.50" lengthAdjust="spacingAndGlyphs" >750</text>
<line x1="389.34" y1="365.30" x2="389.34" y2="368.50" stroke="#1e1e1e" stroke-width="1.0"/>
<line x1="395.73" y1="365.30" x2="395.73" y2="368.50" stroke="#1e1e1e" stroke-width="1.0"/>
<line x1="402.11" y1="365.30" x2="402.11" y2="368.50" stroke="#1e1e1e" stroke-width="1.0"/>
<line x1="408.50" y1="365.30" x2="408.50" y2="370.50" stroke="#1e1e1e" stroke-width="1.0"/>
<text x="408.50" y="378.90" font-size="8.8" text-anchor="middle" fill="#333" textLength="18.00" lengthAdjust="spacingAndGlyphs" >1000</text>
<line x1="414.89" y1="365.30" x2="414.89" y2="368.50" stroke="#1e1e1e" stroke-width="1.0"/>
<line x1="421.27" y1="365.30" x2="421.27" y2="368.50" stroke="#1e1e1e" stroke-width="1.0"/>
<line x1="427.66" y1="365.30" x2="427.66" y2="368.50" stroke="#1e1e1e" stroke-width="1.0"/>
<line x1="434.05" y1="365.30" x2="434.05" y2="370.50" stroke="#1e1e1e" stroke-width="1.0"/>
<text x="434.05" y="378.90" font-size="8.8" text-anchor="middle" fill="#333" textLength="18.00" lengthAdjust="spacingAndGlyphs" >1250</text>
<line x1="440.44" y1="365.30" x2="440.44" y2="368.50" stroke="#1e1e1e" stroke-width="1.0"/>
<line x1="446.83" y1="365.30" x2="446.83" y2="368.50" stroke="#1e1e1e" stroke-width="1.0"/>
<line x1="453.21" y1="365.30" x2="453.21" y2="368.50" stroke="#1e1e1e" stroke-width="1.0"/>
<line x1="459.60" y1="365.30" x2="459.60" y2="370.50" stroke="#1e1e1e" stroke-width="1.0"/>
<text x="459.60" y="378.90" font-size="8.8" text-anchor="middle" fill="#333" textLength="18.00" lengthAdjust="spacingAndGlyphs" >1500</text>
<line x1="465.99" y1="365.30" x2="465.99" y2="368.50" stroke="#1e1e1e" stroke-width="1.0"/>
<line x1="472.38" y1="365.30" x2="472.38" y2="368.50" stroke="#1e1e1e" stroke-width="1.0"/>
<line x1="478.76" y1="365.30" x2="478.76" y2="368.50" stroke="#1e1e1e" stroke-width="1.0"/>
<line x1="485.15" y1="365.30" x2="485.15" y2="370.50" stroke="#1e1e1e" stroke-width="1.0"/>
<text x="485.15" y="378.90" font-size="8.8" text-anchor="middle" fill="#333" textLength="18.00" lengthAdjust="spacingAndGlyphs" >1750</text>
<line x1="491.54" y1="365.30" x2="491.54" y2="368.50" stroke="#1e1e1e" stroke-width="1.0"/>
<text x="409.40" y="392.50" font-size="11.0" text-anchor="middle" fill="#222" textLength="19.30" lengthAdjust="spacingAndGlyphs" >Days</text>
<text x="0" y="0" font-size="10.4" fill="#333" text-anchor="middle" textLength="80.0" lengthAdjust="spacingAndGlyphs" stroke="#333" stroke-width="0.25" transform="translate(282.0,302.3) rotate(-90)">Probability of event</text>
<polyline points="306.30,365.30 494.00,365.30" fill="none" stroke="#c81c2e" stroke-width="1.8" stroke-linejoin="round" />
<polyline points="306.30,365.30 316.50,365.30" fill="none" stroke="#78b84a" stroke-width="1.8" stroke-linejoin="round" />
<line x1="312.20" y1="361.50" x2="312.20" y2="369.10" stroke="#a8303f" stroke-width="1.0"/>
<line x1="327.20" y1="361.50" x2="327.20" y2="369.10" stroke="#a8303f" stroke-width="1.0"/>
<line x1="342.60" y1="361.50" x2="342.60" y2="369.10" stroke="#a8303f" stroke-width="1.0"/>
<line x1="343.50" y1="361.50" x2="343.50" y2="369.10" stroke="#a8303f" stroke-width="1.0"/>
<line x1="344.40" y1="361.50" x2="344.40" y2="369.10" stroke="#a8303f" stroke-width="1.0"/>
<line x1="345.30" y1="361.50" x2="345.30" y2="369.10" stroke="#a8303f" stroke-width="1.0"/>
<line x1="347.70" y1="361.50" x2="347.70" y2="369.10" stroke="#a8303f" stroke-width="1.0"/>
<line x1="386.20" y1="361.50" x2="386.20" y2="369.10" stroke="#a8303f" stroke-width="1.0"/>
<line x1="418.60" y1="361.50" x2="418.60" y2="369.10" stroke="#a8303f" stroke-width="1.0"/>
<line x1="438.70" y1="361.50" x2="438.70" y2="369.10" stroke="#a8303f" stroke-width="1.0"/>
<line x1="451.30" y1="361.50" x2="451.30" y2="369.10" stroke="#a8303f" stroke-width="1.0"/>
<line x1="476.80" y1="361.50" x2="476.80" y2="369.10" stroke="#a8303f" stroke-width="1.0"/>
<line x1="493.80" y1="361.50" x2="493.80" y2="369.10" stroke="#a8303f" stroke-width="1.0"/>
<polyline points="316.50,365.30 319.80,354.60 324.90,350.00 331.80,350.00 333.60,343.60 336.90,338.40 342.60,338.40 347.10,332.20 372.10,326.30 494.00,326.30" fill="none" stroke="#42aad8" stroke-width="1.8" stroke-linejoin="round" />
<line x1="316.20" y1="361.50" x2="316.20" y2="369.10" stroke="#62a9c8" stroke-width="1.0"/>
<line x1="320.00" y1="350.60" x2="320.00" y2="358.20" stroke="#62a9c8" stroke-width="1.0"/>
<line x1="324.90" y1="346.20" x2="324.90" y2="353.80" stroke="#62a9c8" stroke-width="1.0"/>
<line x1="331.80" y1="346.20" x2="331.80" y2="353.80" stroke="#62a9c8" stroke-width="1.0"/>
<line x1="336.90" y1="334.60" x2="336.90" y2="342.20" stroke="#62a9c8" stroke-width="1.0"/>
<line x1="342.60" y1="334.60" x2="342.60" y2="342.20" stroke="#62a9c8" stroke-width="1.0"/>
<line x1="346.80" y1="328.50" x2="346.80" y2="336.10" stroke="#62a9c8" stroke-width="1.0"/>
<line x1="372.10" y1="322.50" x2="372.10" y2="330.10" stroke="#62a9c8" stroke-width="1.0"/>
<line x1="415.30" y1="322.50" x2="415.30" y2="330.10" stroke="#62a9c8" stroke-width="1.0"/>
<line x1="452.80" y1="322.50" x2="452.80" y2="330.10" stroke="#62a9c8" stroke-width="1.0"/>
<line x1="456.80" y1="322.50" x2="456.80" y2="330.10" stroke="#62a9c8" stroke-width="1.0"/>
<line x1="493.60" y1="322.50" x2="493.60" y2="330.10" stroke="#62a9c8" stroke-width="1.0"/>
<path d="M497.6,326.3 H503.4 V365.2 H497.6" fill="none" stroke="#6a6a6a" stroke-width="1"/>
<polygon points="507.40,344.30 507.99,345.84 509.63,345.92 508.35,346.96 508.78,348.55 507.40,347.65 506.02,348.55 506.45,346.96 505.17,345.92 506.81,345.84" fill="#1a1a1a"/>
<rect x="314.2" y="244.6" width="148.6" height="25.3" fill="#fff" stroke="#777" stroke-width="1"/>
<line x1="318.30" y1="250.80" x2="331.40" y2="250.80" stroke="#42aad8" stroke-width="1.6"/>
<line x1="324.80" y1="246.90" x2="324.80" y2="254.70" stroke="#62a9c8" stroke-width="1.0"/>
<line x1="318.30" y1="263.20" x2="331.40" y2="263.20" stroke="#c81c2e" stroke-width="1.6"/>
<line x1="324.80" y1="259.30" x2="324.80" y2="267.10" stroke="#a8303f" stroke-width="1.0"/>
<text x="335.20" y="253.70" font-size="8.8" text-anchor="start" fill="#333" textLength="124.00" lengthAdjust="spacingAndGlyphs" >No Emapalumab (N=7/26, 27%)</text>
<text x="335.20" y="266.10" font-size="8.8" text-anchor="start" fill="#333" textLength="102.50" lengthAdjust="spacingAndGlyphs" >Emapalumab (N=0/21, 0%)</text>
<rect x="0.5" y="0.5" width="519" height="402" fill="none" stroke="#474747" stroke-width="1.15"/>
</svg></body></html>
